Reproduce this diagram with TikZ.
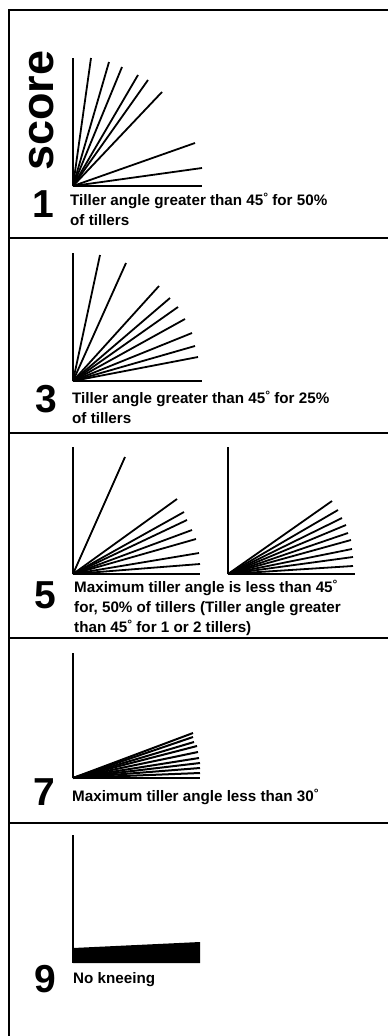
\documentclass[tikz,border=0pt]{standalone}
\usepackage{fontspec}
\setmainfont{Liberation Sans}
\begin{document}
\begin{tikzpicture}[x=1pt,y=-1pt,
  frameline/.style={line width=1.3pt},
  tiller/.style={line width=1.8pt},
  thicktiller/.style={line width=2pt},
  desc/.style={anchor=base west,inner sep=0pt,font=\fontsize{15.2}{17}\selectfont\bfseries},
  scorenum/.style={anchor=base,inner sep=0pt,font=\fontsize{39}{39}\selectfont\bfseries},
  scoreword/.style={anchor=base west,inner sep=0pt,rotate=90,font=\fontsize{45}{45}\selectfont\bfseries}]
\useasboundingbox (0,0) rectangle (388,1036);
\fill[white] (0,0) rectangle (388,1036);
% frame
\draw[frameline] (9,1036) -- (9,10) -- (388,10);
\foreach \yy in {238,433,638,823} \draw[frameline] (9,\yy) -- (388,\yy);
\newcommand{\dg}{\raisebox{0.45ex}{\fontsize{12}{12}\selectfont °}}
% score word
\node[scoreword] (sw) at (53,171) {score};
% panel 1
\coordinate (o1) at (73,186);
\foreach \p in {(73,58),(91,58),(109,62),(122,67),(138,75),(148,80),(162,92),(195,143),(202,168),(202,186)}
  \draw[tiller] (o1) -- \p;
\node[scorenum] (n1) at (43,217) {1};
\node[desc] (t1a) at (70,205) {Tiller angle greater than 45\dg\ for 50\%};
\node[desc] (t1b) at (70,225) {of tillers};
% panel 3
\coordinate (o3) at (73,381);
\foreach \p in {(73,253),(100,255),(126,263),(159,286),(170,298),(178,307),(185,319),(192,333),(195,346),(198,357),(202,381)}
  \draw[tiller] (o3) -- \p;
\node[scorenum] (n3) at (46,412) {3};
\node[desc] (t3a) at (72,403) {Tiller angle greater than 45\dg\ for 25\%};
\node[desc] (t3b) at (72,423) {of tillers};
% panel 5
\coordinate (o5a) at (73,574);
\foreach \p in {(73,447),(125,457),(177,499),(184,512),(187,520),(192,530),(196,539),(199,553),(200,564),(200,574)}
  \draw[tiller] (o5a) -- \p;
\coordinate (o5b) at (228,574);
\foreach \p in {(228,447),(332,501),(338,510),(342,518),(346,525),(348,533),(351,540),(352,549),(353,557),(353,566),(355,574)}
  \draw[tiller] (o5b) -- \p;
\node[scorenum] (n5) at (45,608) {5};
\node[desc] (t5a) at (74,592) {Maximum tiller angle is less than 45\dg};
\node[desc] (t5b) at (74,612) {for, 50\% of tillers (Tiller angle greater};
\node[desc] (t5c) at (74,632) {than 45\dg\ for 1 or 2 tillers)};
% panel 7
\coordinate (o7) at (73,778);
\draw[tiller] (o7) -- (73,653);
\foreach \p in {(193,733),(193,737),(194,742),(197,746),(198,752),(199,758),(200,763),(200,768),(200,773),(200,778)}
  \draw[thicktiller] (o7) -- \p;
\node[scorenum] (n7) at (44,805) {7};
\node[desc] (t7) at (72,801) {Maximum tiller angle less than 30\dg};
% panel 9
\coordinate (o9) at (73,963);
\draw[tiller] (o9) -- (73,835);
\fill (73,948) -- (200,942) -- (200,963) -- (73,963) -- cycle;
\node[scorenum] (n9) at (45,992) {9};
\node[desc] (t9) at (73,983) {No kneeing};
\end{tikzpicture}
\end{document}
